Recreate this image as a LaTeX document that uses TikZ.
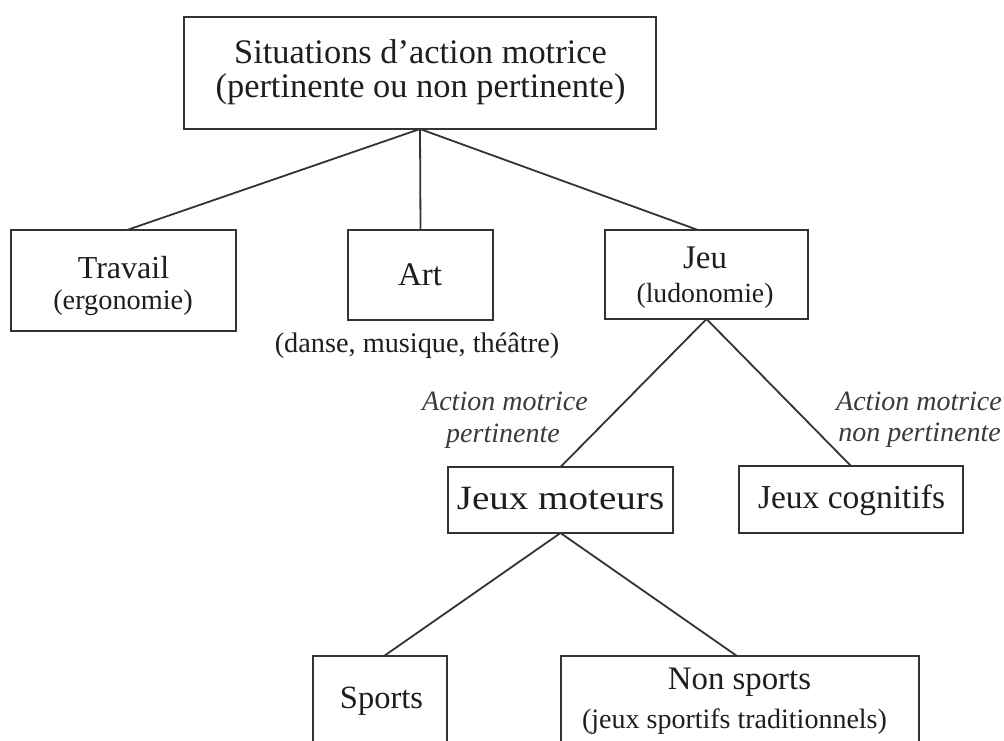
\documentclass[tikz,border=0pt]{standalone}
\usepackage{fontspec}
\setmainfont{Liberation Serif}
\definecolor{linec}{HTML}{333333}
\definecolor{txtc}{HTML}{1E1E1E}
\definecolor{labc}{HTML}{3A3A3A}
\newcommand{\fsz}[1]{\fontsize{#1pt}{#1pt}\selectfont}
\begin{document}
\begin{tikzpicture}[x=1pt,y=-1pt,
  box/.style={draw=linec,line width=1.8pt,outer sep=0pt,inner sep=0pt},
  conn/.style={draw=linec,line width=1.8pt},
  txt/.style={anchor=base,inner sep=0pt,outer sep=0pt,text=txtc},
  lab/.style={anchor=base,inner sep=0pt,outer sep=0pt,text=labc,font=\itshape\fsz{28}}]
\useasboundingbox (0,0) rectangle (1004,740);
\clip (0,0) rectangle (1004,740);
\fill[white] (0,0) rectangle (1004,740);

% boxes
\node[box,minimum width=472pt,minimum height=112pt] (top) at (420,73) {};
\node[box,minimum width=225pt,minimum height=101pt] (travail) at (123.5,280.5) {};
\node[box,minimum width=145pt,minimum height=90pt] (art) at (420.5,275) {};
\node[box,minimum width=203pt,minimum height=89pt] (jeu) at (706.5,274.5) {};
\node[box,minimum width=225pt,minimum height=66pt] (moteurs) at (560.5,500) {};
\node[box,minimum width=224pt,minimum height=67pt] (cognitifs) at (851,499.5) {};
\node[box,minimum width=134pt,minimum height=124pt] (sports) at (380,718) {};
\node[box,minimum width=358pt,minimum height=124pt] (nonsports) at (740,718) {};

% connectors
\draw[conn] (top.south) -- ([xshift=3.5pt]travail.north);
\draw[conn] (top.south) -- (art.north);
\draw[conn] (top.south) -- ([xshift=-8.5pt]jeu.north);
\draw[conn] (jeu.south) -- (moteurs.north);
\draw[conn] (jeu.south) -- (cognitifs.north);
\draw[conn] (moteurs.south) -- ([xshift=4pt]sports.north);
\draw[conn] (moteurs.south) -- ([xshift=-3pt]nonsports.north);

% texts
\node[txt,font=\fsz{34.4}] (t1) at (420.5,63) {Situations d’action motrice};
\node[txt,font=\fsz{34.4}] (t2) at (420.5,97) {(pertinente ou non pertinente)};
\node[txt,font=\fsz{32}] (tr1) at (123.5,278) {Travail};
\node[txt,font=\fsz{28.3}] (tr2) at (123,309) {(ergonomie)};
\node[txt,font=\fsz{33}] (ar1) at (420,285) {Art};
\node[txt,font=\fsz{28.3}] (ar2) at (417,352) {(danse, musique, théâtre)};
\node[txt,font=\fsz{33}] (je1) at (705,268) {Jeu};
\node[txt,font=\fsz{27.7}] (je2) at (705,302) {(ludonomie)};
\node[txt,font=\fsz{34}] (jm) at (560.5,509) {\scalebox{1.15}[1]{Jeux moteurs}};
\node[txt,font=\fsz{33.5}] (jc) at (851.5,508) {Jeux cognitifs};
\node[lab] (l1a) at (505,410) {Action motrice};
\node[lab] (l1b) at (503,442) {pertinente};
\node[lab] (l2a) at (919,410) {Action motrice};
\node[lab] (l2b) at (919.5,441) {non pertinente};
\node[txt,font=\fsz{32.5}] (sp) at (381.5,708) {Sports};
\node[txt,font=\fsz{32.8}] (ns1) at (739.5,689) {Non sports};
\node[txt,font=\fsz{28}] (ns2) at (734.5,728) {(jeux sportifs traditionnels)};
\end{tikzpicture}
\end{document}
